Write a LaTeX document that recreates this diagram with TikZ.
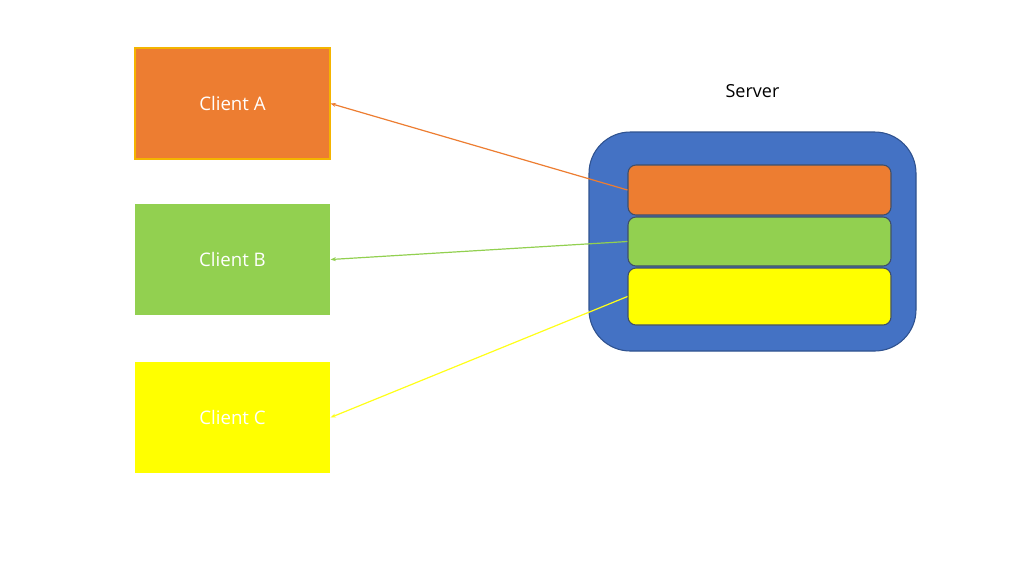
\documentclass[tikz,border=0pt]{standalone}
\usepackage{fontspec}
\setmainfont{Open Sans}
\usetikzlibrary{arrows.meta}
\definecolor{corange}{HTML}{ED7D31}
\definecolor{cgreen}{HTML}{92D050}
\definecolor{cyellow}{HTML}{FFFF00}
\definecolor{cblue}{HTML}{4472C4}
\definecolor{cblueborder}{HTML}{2F528F}
\definecolor{cgold}{HTML}{F4B400}
\definecolor{cinborder}{HTML}{3F4F6A}
\tikzset{
  client/.style={rectangle, minimum width=195*0.75pt, minimum height=111*0.75pt, inner sep=0pt, text=white, font=\fontsize{14}{16}\selectfont, line width=0.8pt},
  slot/.style={rectangle, rounded corners=6pt, draw=cinborder, line width=0.8pt, minimum width=263*0.75pt, inner sep=0pt},
  conn/.style={-{Stealth[length=4pt,width=3pt]}, line width=0.9pt},
}
\begin{document}
\begin{tikzpicture}[x=0.75pt,y=-0.75pt]
\useasboundingbox (0,0) rectangle (1024,576);
\fill[white] (0,0) rectangle (1024,576);
% clients
\node[client, fill=corange, draw=cgold] (A) at (232.5,103.5) {Client A};
\node[client, fill=cgreen] (B) at (232.5,259.5) {Client B};
\node[client, fill=cyellow] (C) at (232.5,417.5) {Client C};
% server
\node[rectangle, rounded corners=31pt, fill=cblue, draw=cblueborder, line width=0.8pt, minimum width=327*0.75pt, minimum height=219*0.75pt, inner sep=0pt] (S) at (752.5,241.5) {};
\node[font=\fontsize{13.5}{16}\selectfont] (SL) at (752.5,91) {Server};
\node[slot, fill=corange, minimum height=50*0.75pt] (So) at (759.5,190) {};
\node[slot, fill=cgreen, minimum height=49*0.75pt] (Sg) at (759.5,241.5) {};
\node[slot, fill=cyellow, minimum height=57*0.75pt] (Sy) at (759.5,296.5) {};
% connectors
\draw[conn, draw=corange] (So.west) -- (A.east);
\draw[conn, draw=cgreen] (Sg.west) -- (B.east);
\draw[conn, draw=cyellow!90!white] (Sy.west) -- (C.east);
\end{tikzpicture}
\end{document}
